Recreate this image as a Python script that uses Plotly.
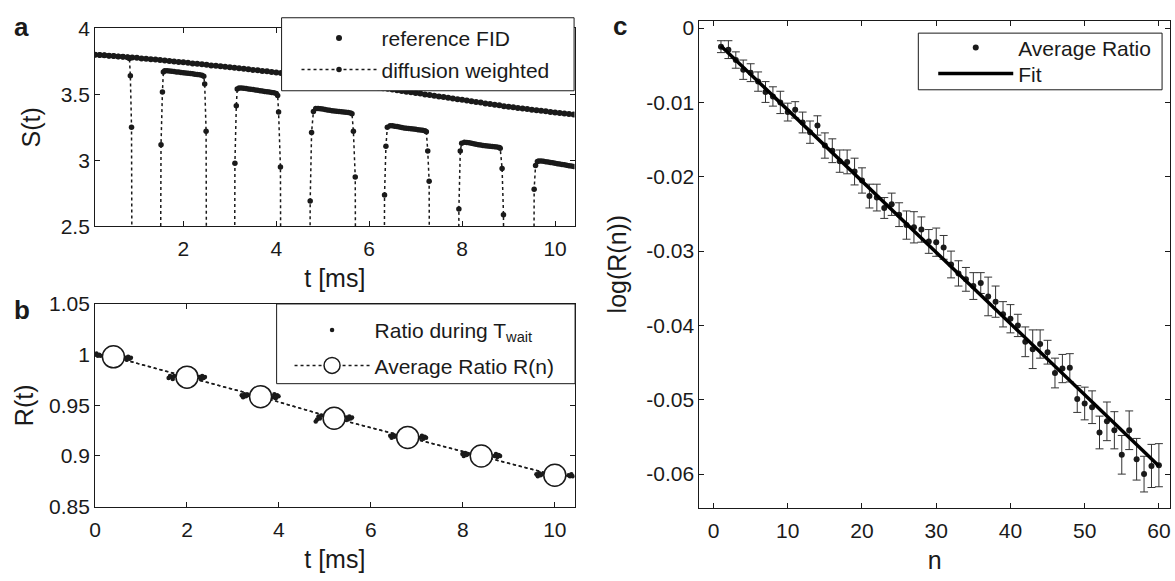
import plotly.graph_objects as go

W, H = 1175, 581
FONT = "Liberation Sans, Arial, sans-serif"
INK = "#1a1a1a"
FS = 21

# ---------------- panel a data ----------------
ref_t = [0.1, 0.2, 0.3, 0.4, 0.5, 0.6, 0.7, 0.8, 0.9, 1.0,
         1.1, 1.2, 1.3, 1.4, 1.5, 1.6, 1.7, 1.8, 1.9, 2.0,
         2.1, 2.2, 2.3, 2.4, 2.5, 2.6, 2.7, 2.8, 2.9, 3.0,
         3.1, 3.2, 3.3, 3.4, 3.5, 3.6, 3.7, 3.8, 3.9, 4.0,
         4.1, 4.2, 4.3, 4.4, 4.5, 4.6, 4.7, 4.8, 4.9, 5.0,
         5.1, 5.2, 5.3, 5.4, 5.5, 5.6, 5.7, 5.8, 5.9, 6.0,
         6.1, 6.2, 6.3, 6.4, 6.5, 6.6, 6.7, 6.8, 6.9, 7.0,
         7.1, 7.2, 7.3, 7.4, 7.5, 7.6, 7.7, 7.8, 7.9, 8.0,
         8.1, 8.2, 8.3, 8.4, 8.5, 8.6, 8.7, 8.8, 8.9, 9.0,
         9.1, 9.2, 9.3, 9.4, 9.5, 9.6, 9.7, 9.8, 9.9, 10.0,
         10.1, 10.2, 10.3, 10.4]
ref_s = [3.800, 3.798, 3.796, 3.792, 3.791, 3.787, 3.785, 3.781, 3.779, 3.776,
         3.772, 3.770, 3.765, 3.763, 3.759, 3.756, 3.752, 3.749, 3.745, 3.742,
         3.739, 3.734, 3.731, 3.727, 3.724, 3.719, 3.716, 3.712, 3.709, 3.705,
         3.701, 3.698, 3.693, 3.690, 3.685, 3.682, 3.677, 3.674, 3.669, 3.666,
         3.661, 3.657, 3.651, 3.647, 3.641, 3.637, 3.632, 3.627, 3.622, 3.617,
         3.612, 3.606, 3.601, 3.595, 3.590, 3.584, 3.579, 3.573, 3.568, 3.562,
         3.557, 3.552, 3.546, 3.541, 3.536, 3.531, 3.525, 3.520, 3.515, 3.510,
         3.505, 3.499, 3.494, 3.489, 3.484, 3.479, 3.473, 3.468, 3.463, 3.458,
         3.453, 3.447, 3.442, 3.437, 3.431, 3.426, 3.421, 3.416, 3.410, 3.405,
         3.401, 3.396, 3.392, 3.388, 3.383, 3.379, 3.375, 3.371, 3.366, 3.362,
         3.358, 3.355, 3.351, 3.347]

# diffusion weighted signal, one list per echo segment (0.30 = signal gone during gradient)
seg0_t = [0.1, 0.2, 0.3, 0.4, 0.5, 0.6, 0.7, 0.8, 0.84, 0.86, 0.885, 0.91]
seg0_s = [3.800, 3.798, 3.796, 3.792, 3.791, 3.787, 3.785, 3.781, 3.772, 3.640, 3.250, 0.30]
seg1_t = [1.49, 1.52, 1.55, 1.57, 1.60, 1.65, 1.70, 1.75, 1.80, 1.85, 1.90, 1.95, 2.00, 2.05,
          2.10, 2.15, 2.20, 2.25, 2.30, 2.35, 2.40, 2.44, 2.46, 2.49, 2.51]
seg1_s = [0.30, 3.118, 3.517, 3.668, 3.678, 3.678, 3.676, 3.674, 3.672, 3.669, 3.668, 3.665, 3.663, 3.661,
          3.659, 3.657, 3.655, 3.652, 3.650, 3.648, 3.645, 3.636, 3.577, 3.220, 0.30]
seg2_t = [3.09, 3.11, 3.14, 3.16, 3.20, 3.25, 3.30, 3.35, 3.40, 3.45, 3.50, 3.55, 3.60, 3.65,
          3.70, 3.75, 3.80, 3.85, 3.90, 3.95, 4.00, 4.03, 4.05, 4.09, 4.11]
seg2_s = [0.30, 2.978, 3.413, 3.540, 3.548, 3.548, 3.546, 3.543, 3.540, 3.538, 3.536, 3.533, 3.530, 3.527,
          3.524, 3.522, 3.519, 3.517, 3.514, 3.511, 3.506, 3.490, 3.365, 2.949, 0.30]
seg3_t = [4.71, 4.73, 4.76, 4.80, 4.85, 4.90, 4.95, 5.00, 5.05, 5.10, 5.15, 5.20, 5.25, 5.30,
          5.35, 5.40, 5.45, 5.50, 5.55, 5.60, 5.63, 5.66, 5.70, 5.72]
seg3_s = [0.30, 2.690, 3.210, 3.370, 3.392, 3.393, 3.390, 3.388, 3.385, 3.381, 3.378, 3.376, 3.373, 3.371,
          3.369, 3.368, 3.366, 3.364, 3.362, 3.359, 3.352, 3.220, 2.872, 0.30]
seg4_t = [6.31, 6.33, 6.36, 6.39, 6.45, 6.50, 6.55, 6.60, 6.65, 6.70, 6.75, 6.80, 6.85, 6.90,
          6.95, 7.00, 7.05, 7.10, 7.15, 7.20, 7.23, 7.26, 7.29, 7.31]
seg4_s = [0.30, 2.737, 3.106, 3.250, 3.262, 3.261, 3.258, 3.255, 3.252, 3.248, 3.245, 3.243, 3.240, 3.238,
          3.236, 3.234, 3.232, 3.230, 3.228, 3.224, 3.216, 3.070, 2.840, 0.30]
seg5_t = [7.91, 7.93, 7.96, 7.99, 8.05, 8.10, 8.15, 8.20, 8.25, 8.30, 8.35, 8.40, 8.45, 8.50,
          8.55, 8.60, 8.65, 8.70, 8.75, 8.80, 8.82, 8.86, 8.89, 8.91]
seg5_s = [0.30, 2.630, 3.070, 3.128, 3.137, 3.135, 3.132, 3.128, 3.125, 3.121, 3.118, 3.115, 3.112, 3.110,
          3.108, 3.106, 3.104, 3.102, 3.100, 3.096, 3.090, 2.937, 2.587, 0.30]
seg6_t = [9.53, 9.55, 9.58, 9.62, 9.65, 9.70, 9.75, 9.80, 9.85, 9.90, 9.95, 10.00, 10.05,
          10.10, 10.15, 10.20, 10.25, 10.30, 10.35, 10.40]
seg6_s = [0.30, 2.780, 2.960, 2.990, 2.994, 2.994, 2.992, 2.989, 2.986, 2.983, 2.980, 2.977, 2.974,
          2.971, 2.968, 2.965, 2.962, 2.959, 2.956, 2.953]

dw_t = seg0_t + seg1_t + seg2_t + seg3_t + seg4_t + seg5_t + seg6_t
dw_s = seg0_s + seg1_s + seg2_s + seg3_s + seg4_s + seg5_s + seg6_s

# ---------------- panel b data ----------------
ratio_t = [0.00, 0.03, 0.06, 0.09, 0.12, 0.66, 0.69, 0.72, 0.75, 0.78,
           1.60, 1.63, 1.66, 1.69, 1.72, 2.27, 2.30, 2.33, 2.36, 2.39,
           3.19, 3.22, 3.25, 3.28, 3.31, 3.87, 3.90, 3.93, 3.96, 3.99,
           4.80, 4.83, 4.86, 4.89, 4.92, 5.47, 5.50, 5.53, 5.56, 5.59,
           6.42, 6.45, 6.48, 6.51, 6.54, 7.08, 7.11, 7.14, 7.17, 7.20,
           7.99, 8.02, 8.05, 8.08, 8.11, 8.69, 8.72, 8.75, 8.78, 8.81,
           9.60, 9.63, 9.66, 9.69, 9.72, 10.30, 10.33, 10.36, 10.39]
ratio_r = [1.000, 1.001, 0.999, 1.000, 0.999, 0.997, 0.995, 0.998, 0.996, 0.997,
           0.977, 0.979, 0.978, 0.976, 0.979, 0.978, 0.976, 0.979, 0.977, 0.978,
           0.960, 0.958, 0.961, 0.959, 0.960, 0.958, 0.961, 0.957, 0.960, 0.959,
           0.934, 0.936, 0.939, 0.937, 0.940, 0.938, 0.936, 0.939, 0.937, 0.938,
           0.920, 0.918, 0.921, 0.919, 0.920, 0.918, 0.920, 0.917, 0.919, 0.918,
           0.902, 0.900, 0.903, 0.901, 0.902, 0.900, 0.902, 0.899, 0.901, 0.900,
           0.882, 0.880, 0.883, 0.881, 0.882, 0.881, 0.880, 0.882, 0.880]
avg_t = [0.4, 2.0, 3.6, 5.2, 6.8, 8.4, 10.0]
avg_r = [0.9978, 0.9778, 0.9585, 0.9373, 0.9183, 0.9000, 0.8810]
avgline_t = [0.0, 0.4, 2.0, 3.6, 5.2, 6.8, 8.4, 10.0, 10.43]
avgline_r = [1.000, 0.9978, 0.9778, 0.9585, 0.9373, 0.9183, 0.9000, 0.8810, 0.8800]

# ---------------- panel c data ----------------
n_idx = list(range(1, 61))
logR = [-0.0025, -0.0029, -0.0043, -0.0056, -0.0060, -0.0072, -0.0086, -0.0092, -0.0100, -0.0113,
        -0.0110, -0.0127, -0.0140, -0.0131, -0.0158, -0.0165, -0.0179, -0.0180, -0.0193, -0.0205,
        -0.0226, -0.0228, -0.0242, -0.0237, -0.0251, -0.0265, -0.0268, -0.0271, -0.0287, -0.0288,
        -0.0295, -0.0318, -0.0330, -0.0338, -0.0347, -0.0343, -0.0361, -0.0368, -0.0385, -0.0391,
        -0.0400, -0.0422, -0.0432, -0.0425, -0.0436, -0.0464, -0.0458, -0.0457, -0.0499, -0.0505,
        -0.0510, -0.0544, -0.0529, -0.0541, -0.0574, -0.0541, -0.0580, -0.0600, -0.0589, -0.0588]
logR_err = [0.0008, 0.0012, 0.0011, 0.0013, 0.0012, 0.0013, 0.0014, 0.0013, 0.0015, 0.0012,
            0.0011, 0.0014, 0.0015, 0.0013, 0.0017, 0.0016, 0.0015, 0.0016, 0.0018, 0.0017,
            0.0016, 0.0018, 0.0014, 0.0015, 0.0016, 0.0019, 0.0021, 0.0017, 0.0016, 0.0019,
            0.0016, 0.0018, 0.0017, 0.0016, 0.0018, 0.0014, 0.0026, 0.0021, 0.0017, 0.0019,
            0.0015, 0.0020, 0.0026, 0.0019, 0.0016, 0.0020, 0.0019, 0.0019, 0.0018, 0.0022,
            0.0022, 0.0022, 0.0026, 0.0025, 0.0026, 0.0026, 0.0028, 0.0024, 0.0029, 0.0029]
fit_n = [1, 60]
fit_y = [-0.0024, -0.0589]

# tick labels
a_xt = [2, 4, 6, 8, 10]
a_yt = [2.5, 3, 3.5, 4]
a_ytt = ["2.5", "3", "3.5", "4"]
b_xt = [0, 2, 4, 6, 8, 10]
b_yt = [0.85, 0.9, 0.95, 1.0, 1.05]
b_ytt = ["0.85", "0.9", "0.95", "1", "1.05"]
c_xt = [0, 10, 20, 30, 40, 50, 60]
c_yt = [0, -0.01, -0.02, -0.03, -0.04, -0.05, -0.06]
c_ytt = ["0", "-0.01", "-0.02", "-0.03", "-0.04", "-0.05", "-0.06"]


def px_x(p):
    return p / W


def px_y(p):
    return 1 - p / H


fig = go.Figure()

# panel a
fig.add_trace(go.Scatter(x=ref_t, y=ref_s, mode="markers", name="reference FID",
                         marker=dict(color=INK, size=6), xaxis="x", yaxis="y",
                         legend="legend"))
fig.add_trace(go.Scatter(x=dw_t, y=dw_s, mode="lines+markers", name="diffusion weighted",
                         line=dict(color=INK, width=1.5, dash="dot"),
                         marker=dict(color=INK, size=5.5), xaxis="x", yaxis="y",
                         legend="legend2"))

# panel b
fig.add_trace(go.Scatter(x=avgline_t, y=avgline_r, mode="lines", showlegend=False,
                         line=dict(color=INK, width=1.5, dash="dot"), xaxis="x2", yaxis="y2",
                         hoverinfo="skip"))
fig.add_trace(go.Scatter(x=ratio_t, y=ratio_r, mode="markers", name="Ratio during T<sub>wait</sub>",
                         marker=dict(color=INK, size=4.5), xaxis="x2", yaxis="y2",
                         legend="legend3"))
fig.add_trace(go.Scatter(x=avg_t, y=avg_r, mode="lines+markers", name="Average Ratio R(n)",
                         line=dict(color=INK, width=1.5, dash="dot"),
                         marker=dict(color="white", size=22, line=dict(color=INK, width=1.5)),
                         xaxis="x2", yaxis="y2", legend="legend4"))

# panel c
fig.add_trace(go.Scatter(x=n_idx, y=logR, mode="markers", name="Average Ratio",
                         marker=dict(color=INK, size=6),
                         error_y=dict(type="data", array=logR_err, visible=True,
                                      color="#333333", thickness=1, width=4),
                         xaxis="x3", yaxis="y3", legend="legend5"))
fig.add_trace(go.Scatter(x=fit_n, y=fit_y, mode="lines", name="Fit",
                         line=dict(color="black", width=3.5), xaxis="x3", yaxis="y3",
                         legend="legend6"))

axis_common = dict(showline=True, mirror="ticks", linecolor=INK, linewidth=1,
                   ticks="inside", ticklen=5, tickcolor=INK, showgrid=False, zeroline=False,
                   tickfont=dict(size=FS, color=INK, family=FONT))
xextra = dict(ticklabelstandoff=4)

ab_dom = [px_x(89.5), px_x(571.5)]
leg_common = dict(xanchor="left", yanchor="top", bgcolor="rgba(0,0,0,0)", borderwidth=0,
                  itemwidth=75, font=dict(size=FS, color=INK, family=FONT))
fig.update_layout(
    width=W, height=H, margin=dict(l=0, r=0, t=0, b=0),
    paper_bgcolor="white", plot_bgcolor="white",
    font=dict(family=FONT, size=FS, color=INK),
    xaxis=dict(domain=ab_dom, range=[0.1, 10.42], tickvals=a_xt, anchor="y",
               title=dict(text="t [ms]", standoff=10), **axis_common, **xextra),
    yaxis=dict(domain=[px_y(223), px_y(17)], range=[2.5, 4.0], tickvals=a_yt, ticktext=a_ytt,
               anchor="x", title=dict(text="S(t)", standoff=12), **axis_common),
    xaxis2=dict(domain=ab_dom, range=[0, 10.43], tickvals=b_xt, anchor="y2",
                title=dict(text="t [ms]", standoff=10), **axis_common, **xextra),
    yaxis2=dict(domain=[px_y(515), px_y(304)], range=[0.85, 1.05], tickvals=b_yt, ticktext=b_ytt,
                anchor="x2", title=dict(text="R(t)", standoff=8), **axis_common),
    xaxis3=dict(domain=[px_x(697), px_x(1170)], range=[-1.9, 61.5], tickvals=c_xt, anchor="y3",
                title=dict(text="n", standoff=10), **axis_common, **xextra),
    yaxis3=dict(domain=[px_y(516), px_y(9)], range=[-0.0645, 0.001], tickvals=c_yt, ticktext=c_ytt,
                anchor="x3", title=dict(text="log(R(n))", standoff=12), **axis_common),
    legend=dict(x=px_x(292), y=px_y(6), **leg_common),
    legend2=dict(x=px_x(292), y=px_y(39), **leg_common),
    legend3=dict(x=px_x(285), y=px_y(310), **leg_common),
    legend4=dict(x=px_x(285), y=px_y(347), **leg_common),
    legend5=dict(x=px_x(932), y=px_y(16), **leg_common),
    legend6=dict(x=px_x(932), y=px_y(43), **leg_common),
    shapes=[
        dict(type="rect", xref="paper", yref="paper", layer="above",
             x0=px_x(277), x1=px_x(571), y0=px_y(82), y1=px_y(6),
             fillcolor="white", line=dict(color=INK, width=1)),
        dict(type="rect", xref="paper", yref="paper", layer="above",
             x0=px_x(272), x1=px_x(572), y0=px_y(387), y1=px_y(304),
             fillcolor="white", line=dict(color=INK, width=1)),
        dict(type="rect", xref="paper", yref="paper", layer="above",
             x0=px_x(917), x1=px_x(1162), y0=px_y(81), y1=px_y(22),
             fillcolor="white", line=dict(color=INK, width=1)),
    ],
    annotations=[
        dict(text="<b>a</b>", x=px_x(16), y=px_y(16), xref="paper", yref="paper",
             xanchor="center", yanchor="middle",
             showarrow=False, font=dict(size=26, color=INK, family=FONT)),
        dict(text="<b>b</b>", x=px_x(16), y=px_y(310), xref="paper", yref="paper",
             xanchor="center", yanchor="middle",
             showarrow=False, font=dict(size=26, color=INK, family=FONT)),
        dict(text="<b>c</b>", x=px_x(617), y=px_y(15), xref="paper", yref="paper",
             xanchor="center", yanchor="middle",
             showarrow=False, font=dict(size=26, color=INK, family=FONT)),
    ],
)

fig.write_html("out.html")
